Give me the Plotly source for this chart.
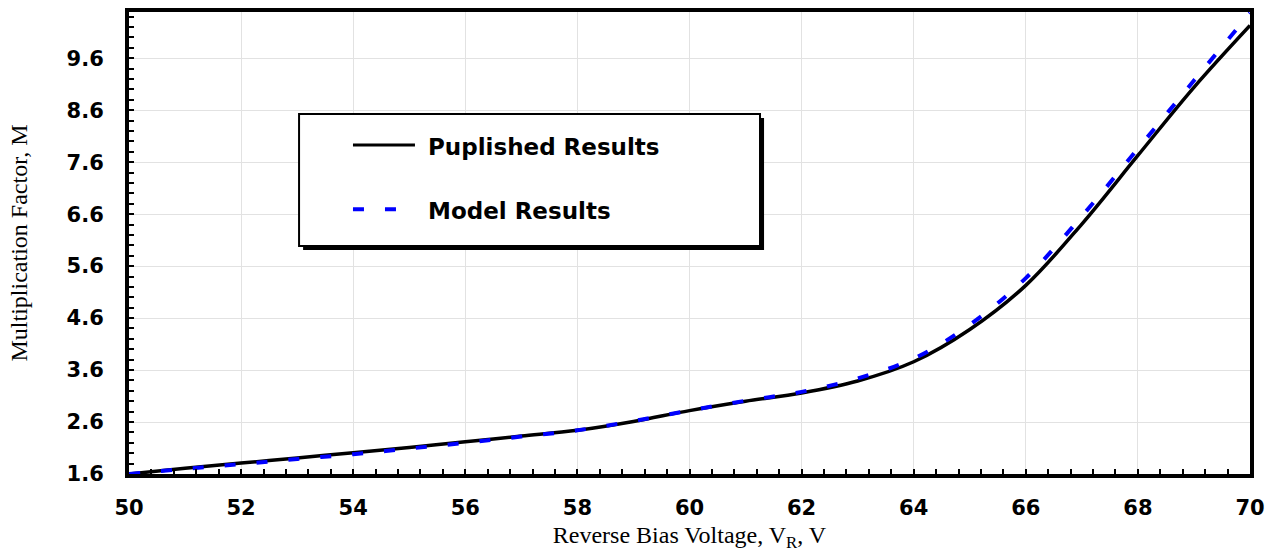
import plotly.graph_objects as go

# Reverse bias voltage (V)
voltage = [50, 51, 52, 53, 54, 55, 56, 57, 58, 59, 60,
           61, 62, 63, 64, 65, 66, 67, 68, 69, 70]

# Multiplication factor M, published curve
m_published = [1.60, 1.71, 1.81, 1.91, 2.01, 2.11, 2.22, 2.33, 2.44, 2.61, 2.82,
               3.00, 3.16, 3.39, 3.76, 4.38, 5.23, 6.41, 7.73, 9.04, 10.23]

# Multiplication factor M, model curve
m_model = [1.60, 1.70, 1.79, 1.89, 1.98, 2.09, 2.20, 2.32, 2.44, 2.62, 2.82,
           3.01, 3.18, 3.44, 3.82, 4.47, 5.37, 6.56, 7.86, 9.17, 10.47]

x_ticks = [50, 52, 54, 56, 58, 60, 62, 64, 66, 68, 70]
y_ticks = [1.6, 2.6, 3.6, 4.6, 5.6, 6.6, 7.6, 8.6, 9.6]

name_pub = "Puplished Results"
name_model = "Model Results"

BLUE = "#0000ff"
MODEL_DASH = "11px,21px"
bold = dict(family="DejaVu Sans", size=21, color="black", weight="bold")
serif = dict(family="Liberation Serif", size=24, color="black")

fig = go.Figure()
fig.add_trace(go.Scatter(x=voltage, y=m_published, mode="lines", name=name_pub,
                         line=dict(color="black", width=3.5, shape="spline")))
fig.add_trace(go.Scatter(x=voltage, y=m_model, mode="lines", name=name_model,
                         line=dict(color=BLUE, width=4, dash=MODEL_DASH, shape="spline")))

axis_common = dict(
    showline=True, linecolor="black", linewidth=4, mirror=True,
    ticks="inside", ticklen=5, tickwidth=1.5, tickcolor="black",
    showgrid=True, gridcolor="#e2e2e2", gridwidth=1,
    zeroline=False, tickfont=bold, automargin=False,
)

fig.update_xaxes(
    range=[50, 70], tickvals=x_ticks, ticktext=[str(v) for v in x_ticks],
    minor=dict(dtick=0.4, tick0=50, ticks="inside", ticklen=5, tickwidth=1.5,
               tickcolor="black", showgrid=False),
    ticklabelstandoff=12,
    title=dict(text="Reverse Bias Voltage, V<sub>R</sub>, V", font=serif, standoff=17),
    **axis_common,
)
fig.update_yaxes(
    range=[1.6, 10.49], tickvals=y_ticks, ticktext=[f"{v:.1f}" for v in y_ticks],
    minor=dict(dtick=0.2, tick0=1.6, ticks="inside", ticklen=5, tickwidth=1.5,
               tickcolor="black", showgrid=False),
    ticklabelstandoff=17,
    title=dict(text="Multiplication Factor, M", font=serif, standoff=33),
    **axis_common,
)

# Boxed legend with a drop shadow
box = dict(x0=0.1517, x1=0.5629, y0=0.4935, y1=0.7792)
shadow_dx, shadow_dy = 0.0036, -0.0087
shapes = [
    dict(type="rect", xref="paper", yref="paper",
         x0=box["x0"] + shadow_dx, x1=box["x1"] + shadow_dx,
         y0=box["y0"] + shadow_dy, y1=box["y1"] + shadow_dy,
         fillcolor="black", line=dict(width=0), layer="above"),
    dict(type="rect", xref="paper", yref="paper", **box,
         fillcolor="white", line=dict(color="black", width=2), layer="above"),
    dict(type="line", xref="paper", yref="paper",
         x0=0.1998, x1=0.2551, y0=0.7121, y1=0.7121,
         line=dict(color="black", width=3), layer="above"),
    dict(type="line", xref="paper", yref="paper",
         x0=0.1998, x1=0.2441, y0=0.5729, y1=0.5729,
         line=dict(color=BLUE, width=4, dash=MODEL_DASH), layer="above"),
]
legend_font = dict(family="DejaVu Sans", size=23, color="black", weight="bold")
annotations = [
    dict(xref="paper", yref="paper", x=0.2647, y=0.7085, xanchor="left", yanchor="middle",
         text=name_pub, showarrow=False, font=legend_font),
    dict(xref="paper", yref="paper", x=0.2647, y=0.5690, xanchor="left", yanchor="middle",
         text=name_model, showarrow=False, font=legend_font),
]

fig.update_layout(
    width=1273, height=552,
    margin=dict(l=129, r=23, t=12, b=78),
    paper_bgcolor="white", plot_bgcolor="white",
    showlegend=False,
    shapes=shapes, annotations=annotations,
)

fig.write_html("out.html")
